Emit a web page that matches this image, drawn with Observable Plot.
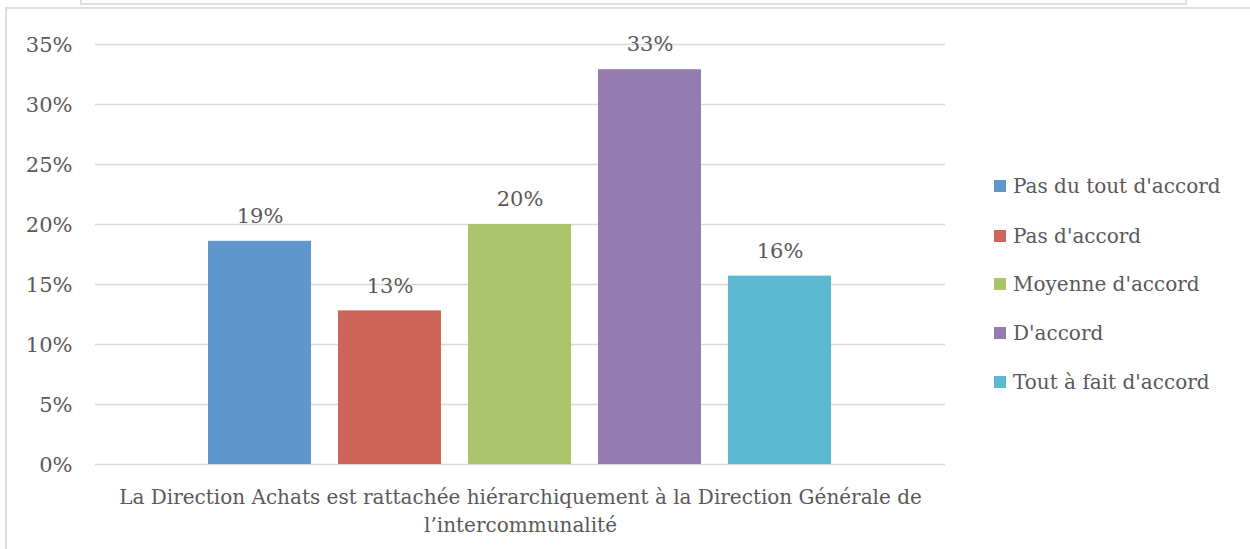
<!DOCTYPE html>
<html>
<head>
<meta charset="utf-8">
<script src="https://cdn.jsdelivr.net/npm/d3@7"></script>
<script src="https://cdn.jsdelivr.net/npm/@observablehq/plot@0.6"></script>
<style>
  html, body { margin: 0; padding: 0; background: #fff; width: 1250px; height: 549px; overflow: hidden; }
  #wrap { position: relative; width: 1250px; height: 549px; font-family: "DejaVu Serif", serif; }
  #wrap svg { position: absolute; left: 0; top: 0; }
  .frame-top { position: absolute; left: 80px; top: -4px; width: 1103px; height: 5px; border: 2px solid #dedede; }
  .frame-chart { position: absolute; left: 5px; top: 7px; width: 1260px; height: 600px; border-left: 2px solid #dedede; border-top: 2px solid #dedede; }
  #legend { position: absolute; left: 994px; top: 0; }
  .item { position: absolute; left: 0; white-space: nowrap; display: flex; align-items: center; font-size: 20px; color: #595959; }
  .sw { width: 12px; height: 12px; margin-right: 7px; }
</style>
</head>
<body>
<div id="wrap">
  <div class="frame-top"></div>
  <div class="frame-chart"></div>
</div>
<script>
const categories = ["Pas du tout d'accord", "Pas d'accord", "Moyenne d'accord", "D'accord", "Tout à fait d'accord"];
const values = [0.186, 0.128, 0.200, 0.329, 0.157];
const colors = ["#6096c9", "#cd645a", "#abc46b", "#947cb0", "#5db8d2"];
const yTicks = [0, 0.05, 0.10, 0.15, 0.20, 0.25, 0.30, 0.35];
const axisTitle = "La Direction Achats est rattachée hiérarchiquement à la Direction Générale de\nl’intercommunalité";

const data = categories.map((c, i) => ({cat: c, value: values[i]}));
const pct = d3.format(".0%");
const FONT = "DejaVu Serif";
const TXT = "#595959";

const chart = Plot.plot({
  width: 1250,
  height: 549,
  marginLeft: 95,
  marginRight: 305,
  marginTop: 44,
  marginBottom: 85,
  style: {fontFamily: FONT, background: "transparent"},
  x: {domain: categories, range: [193, 846], paddingInner: 0.21, paddingOuter: 0.105, axis: null},
  y: {domain: [0, 0.35], axis: null},
  color: {domain: categories, range: colors},
  marks: [
    Plot.ruleY(yTicks, {stroke: "#d9d9d9", strokeWidth: 1.6}),
    Plot.barY(data, {x: "cat", y: "value", fill: "cat"}),
    Plot.text(data, {x: "cat", y: "value", text: d => pct(d.value), dy: -25, fontSize: 21, fill: TXT, fontFamily: FONT}),
    Plot.axisY(yTicks, {tickSize: 0, tickPadding: 23, dy: 1, tickFormat: pct, fontSize: 21, fill: TXT, fontFamily: FONT, label: null}),
    Plot.text([axisTitle], {frameAnchor: "bottom", lineAnchor: "top", dy: 20, lineHeight: 1.4, fontSize: 20, fill: TXT, fontFamily: FONT})
  ]
});
document.getElementById("wrap").appendChild(chart);

const legend = d3.select("#wrap").append("div").attr("id", "legend");
const rowY = [186, 236, 284, 333, 382];
categories.forEach((c, i) => {
  const item = legend.append("div").attr("class", "item").style("top", (rowY[i] - 14) + "px").style("height", "28px");
  item.append("div").attr("class", "sw").style("background", colors[i]);
  item.append("span").text(c);
});
</script>
</body>
</html>
